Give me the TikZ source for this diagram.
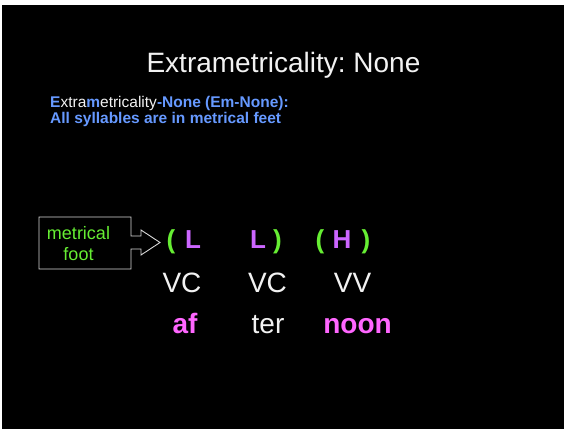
\documentclass[tikz,border=0pt]{standalone}
\usepackage{fontspec}
\setmainfont{Liberation Sans}
\frenchspacing
\definecolor{bluet}{HTML}{6699FF}
\definecolor{greent}{HTML}{66EE33}
\definecolor{purpt}{HTML}{CC66FF}
\definecolor{pinkt}{HTML}{FF66FF}
\definecolor{whitet}{HTML}{F2F2F2}
\definecolor{boxline}{HTML}{D8D8D8}
\tikzset{
  txt/.style={inner sep=0pt, anchor=base, text=whitet},
  paren/.style={txt, text=greent, font=\fontsize{26}{30}\selectfont\bfseries},
  weight/.style={txt, text=purpt, font=\fontsize{26}{30}\selectfont\bfseries},
  skel/.style={txt, font=\fontsize{28}{34}\selectfont},
  syl/.style={txt, font=\fontsize{28}{34}\selectfont},
  sylb/.style={txt, text=pinkt, font=\fontsize{28}{34}\selectfont\bfseries},
  footlbl/.style={txt, text=greent, font=\fontsize{18}{22}\selectfont},
  callout/.style={draw=boxline, line width=0.9pt},
}
\begin{document}
\begin{tikzpicture}[x=1pt,y=-1pt]
\useasboundingbox (0,0) rectangle (565,429);
\fill[white] (0,0) rectangle (565,429);
\fill[black] (2,5) rectangle (564,429);
% title
\node[txt, font=\fontsize{28}{34}\selectfont] (title) at (283.5,72) {Extrametricality: None};
% definition
\node[txt, anchor=base west, font=\fontsize{15.5}{19}\selectfont] (def1) at (50,107)
  {\textcolor{bluet}{\bfseries E}xtra\textcolor{bluet}{\bfseries m}etricality\textcolor{bluet}{\bfseries -None (Em-None):}};
\node[txt, anchor=base west, text=bluet, font=\fontsize{15.5}{19}\selectfont\bfseries] (def2) at (50,123)
  {All syllables are in metrical feet};
% callout box
\draw[callout] (39,217) -- (131,217) -- (131,236) -- (141,236) -- (141,230) -- (160,242.5)
  -- (141,255) -- (141,249) -- (131,249) -- (131,269) -- (39,269) -- cycle;
\node[footlbl] (lbl1) at (78.5,239) {metrical};
\node[footlbl] (lbl2) at (78.5,260) {foot};
% feet row
\node[paren] (p1) at (171,248) {(};
\node[weight] (w1) at (193,248) {L};
\node[weight] (w2) at (258,248) {L};
\node[paren] (p2) at (277.5,248) {)};
\node[paren] (p3) at (320,248) {(};
\node[weight] (w3) at (342,248) {H};
\node[paren] (p4) at (366,248) {)};
% skeleton row
\node[skel] (s1) at (182,292) {VC};
\node[skel] (s2) at (267.5,292) {VC};
\node[skel] (s3) at (352.5,292) {VV};
% syllables
\node[sylb] (y1) at (185,333) {af};
\node[syl] (y2) at (268,333) {ter};
\node[sylb] (y3) at (357.5,333) {noon};
\end{tikzpicture}
\end{document}
